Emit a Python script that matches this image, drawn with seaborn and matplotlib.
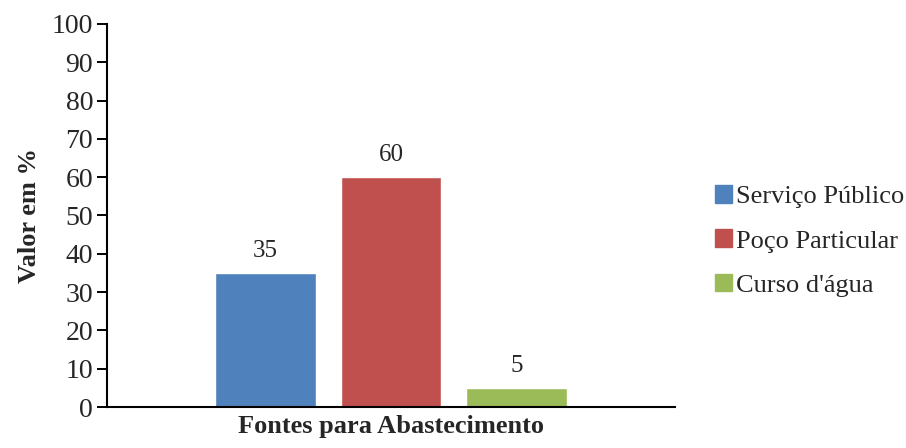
import matplotlib
matplotlib.use('Agg')
import matplotlib.pyplot as plt
import seaborn as sns
import pandas as pd

fontes = ['Serviço Público', 'Poço Particular', "Curso d'água"]
valores = [35, 60, 5]
cores = ['#4F81BD', '#C0504D', '#9BBB59']
categoria = ['Fontes para Abastecimento'] * 3

sns.set_style('white')
plt.rcParams['font.family'] = ['Liberation Serif', 'DejaVu Serif']

df = pd.DataFrame({'Categoria': categoria, 'Fonte': fontes, 'Valor': valores})

fig = plt.figure(figsize=(9.06, 4.48), dpi=100)
ax = fig.add_axes([0.118, 0.0915, 0.627, 0.855])

sns.barplot(data=df, x='Categoria', y='Valor', hue='Fonte', hue_order=fontes,
            palette=cores, width=0.663, gap=0.2, saturation=1, ax=ax,
            legend=False, errorbar=None)

for cont in ax.containers:
    ax.bar_label(cont, fmt='%g', padding=8, fontsize=18)

ax.set_ylim(0, 100)
ax.set_xlim(-0.5, 0.5)
ax.set_yticks(range(0, 101, 10))
ax.tick_params(axis='y', which='major', direction='out', length=7, width=1.4,
               labelsize=20, left=True, color='black', pad=3)
ax.set_xticks([])
ax.set_ylabel('Valor em %', fontsize=19, fontweight='bold', labelpad=8)
ax.set_xlabel('Fontes para Abastecimento', fontsize=19, fontweight='bold', labelpad=6)

for side in ['top', 'right']:
    ax.spines[side].set_visible(False)
for side in ['left', 'bottom']:
    ax.spines[side].set_color('black')
    ax.spines[side].set_linewidth(1.5)

handles = [plt.Rectangle((0, 0), 1, 1, color=c) for c in cores]
fig.legend(handles, fontes, loc='center left', bbox_to_anchor=(0.777, 0.462),
           frameon=False, fontsize=19, handlelength=0.65, handleheight=0.65,
           handletextpad=0.15, labelspacing=0.8, borderaxespad=0)

fig.savefig('out.png', dpi=100)
